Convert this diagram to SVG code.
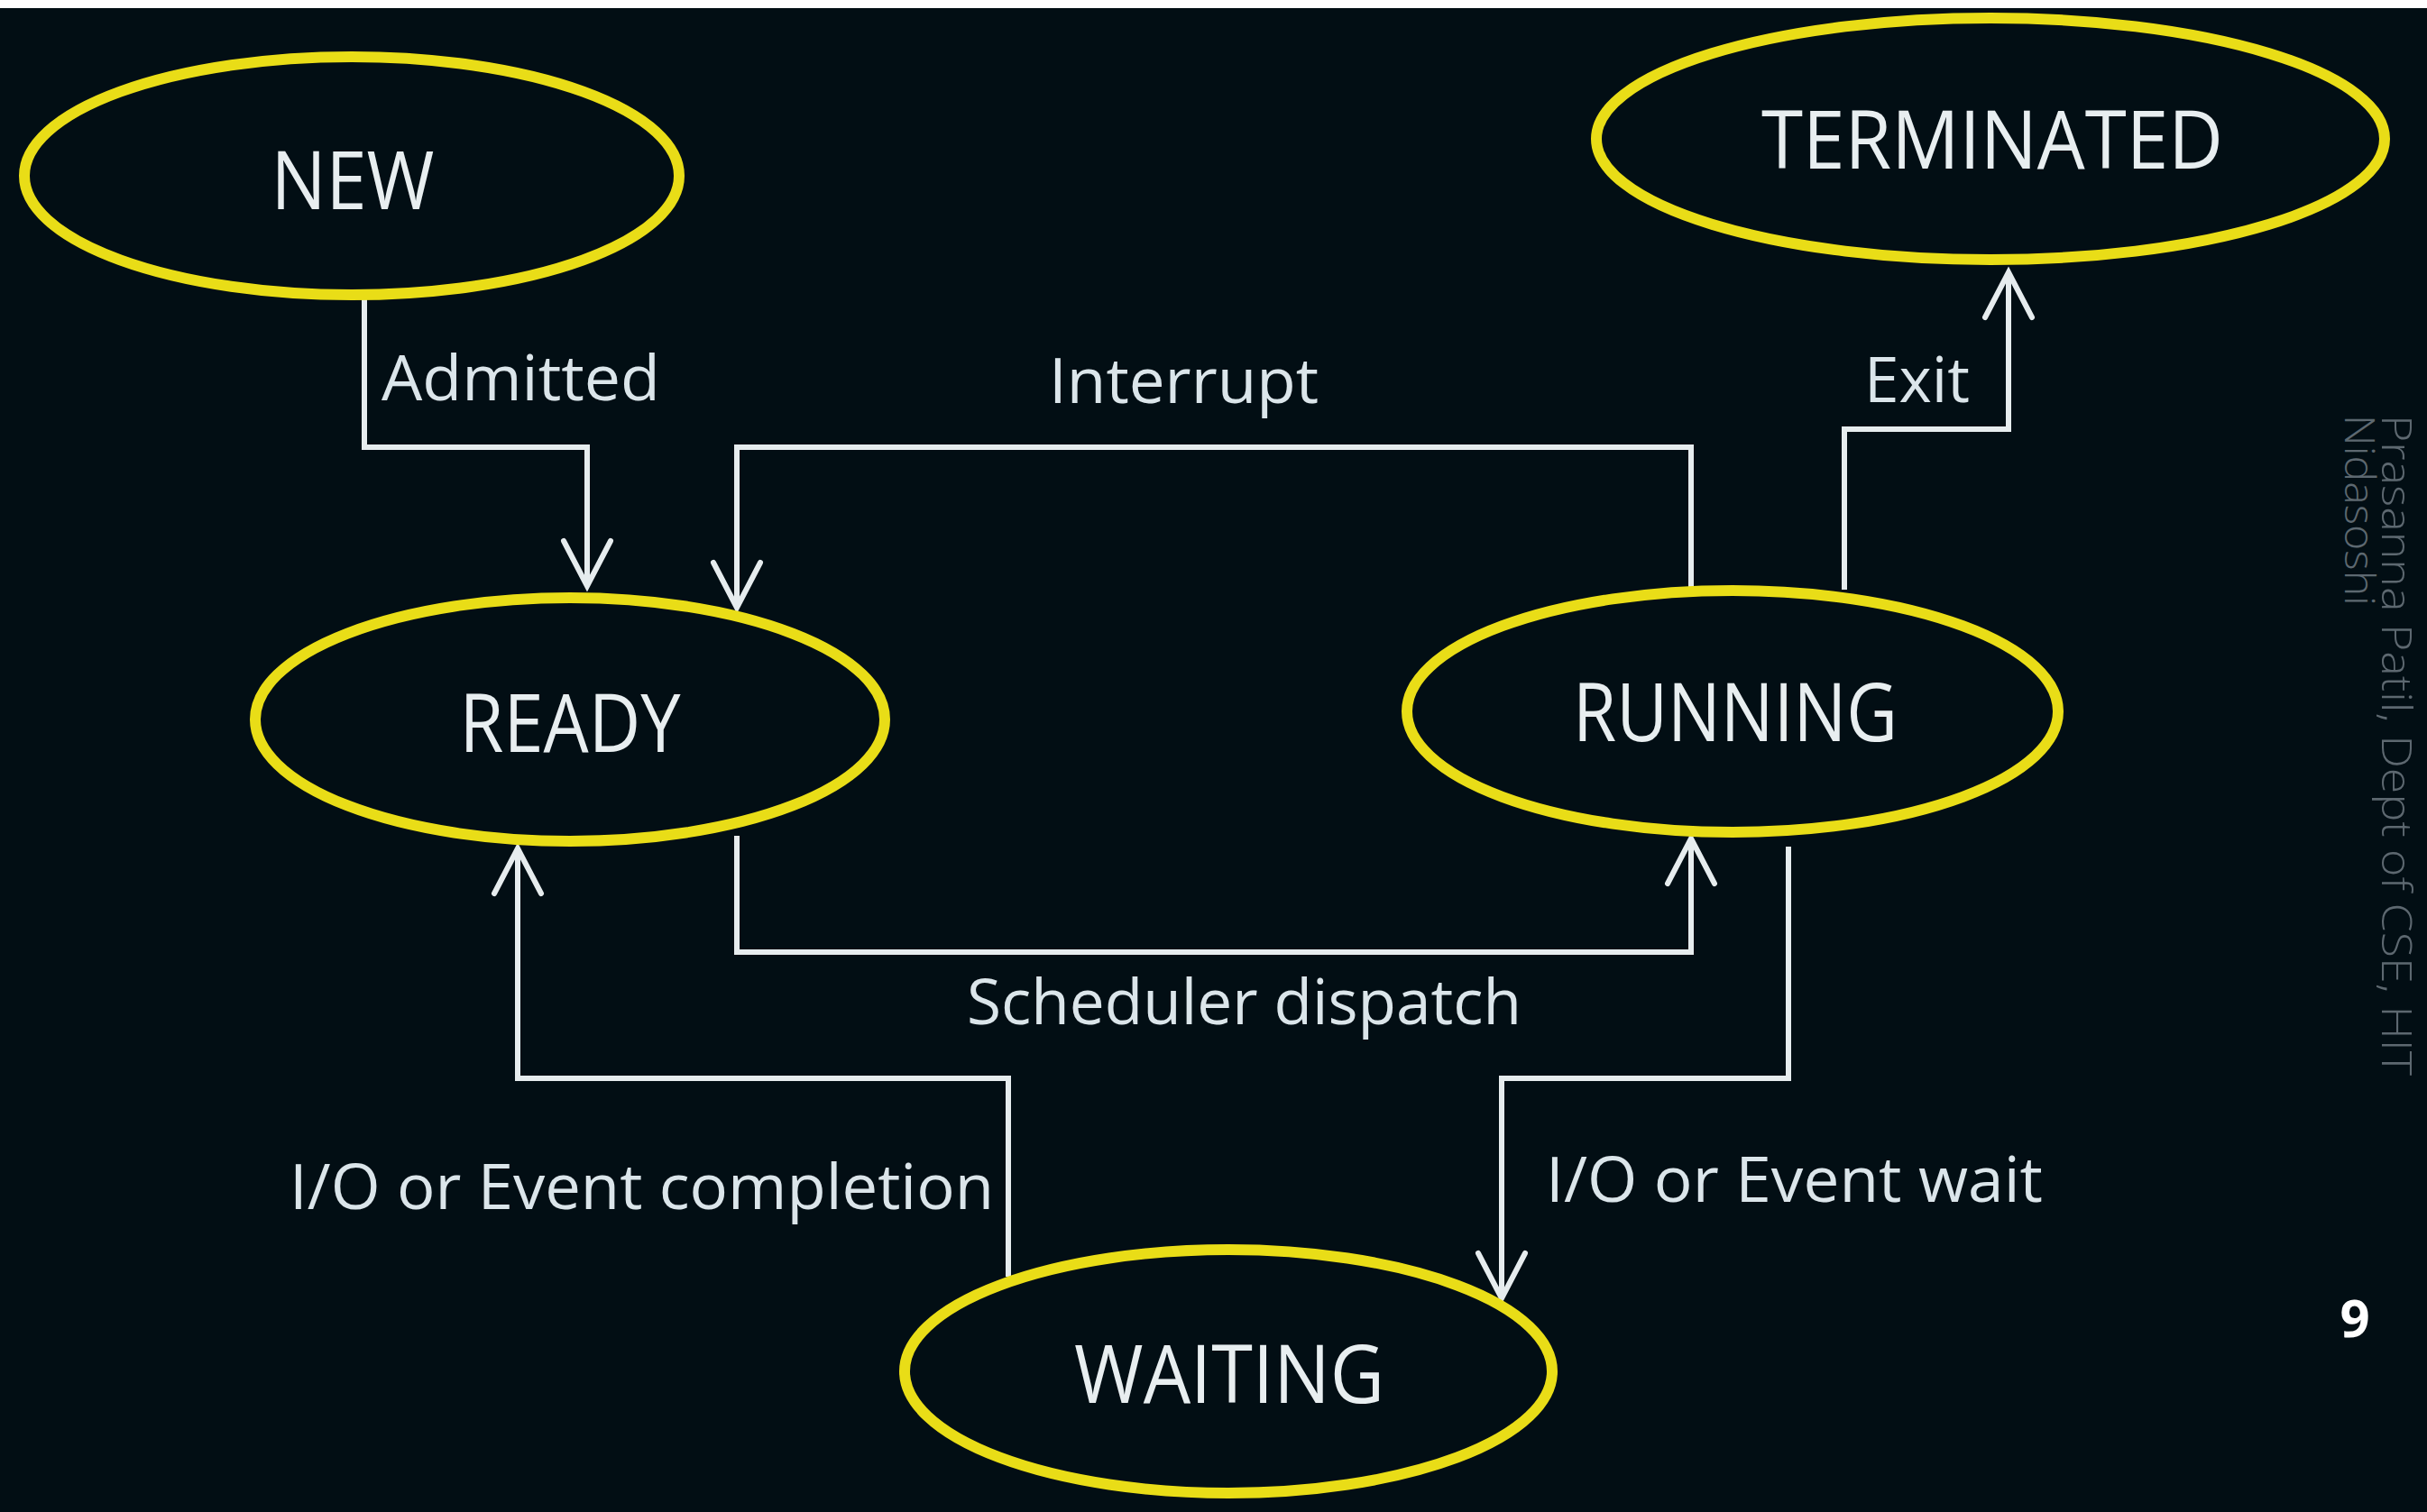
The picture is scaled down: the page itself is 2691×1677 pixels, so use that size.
<svg xmlns="http://www.w3.org/2000/svg" width="2691" height="1677" viewBox="0 0 2691 1677">
  <style>
    .state { fill: none; stroke: #e9dd17; stroke-width: 12; }
    .state-name { font-family: "Open Sans", "Noto Sans", sans-serif; font-size: 90px; font-weight: 500; fill: #e8eef0; text-anchor: middle; }
    .wire { fill: none; stroke: #e6ecee; stroke-width: 6; stroke-linejoin: miter; }
    .edge-label { font-family: "Open Sans", "Noto Sans", sans-serif; font-size: 70px; fill: #dbe5ea; }
    .credit { font-family: "Open Sans", "Noto Sans", sans-serif; font-size: 46px; font-weight: 300; fill: #5d6870; }
    .page-no { font-family: "Open Sans", "Noto Sans", sans-serif; font-size: 58px; font-weight: 700; fill: #ffffff; text-anchor: middle; }
  </style>
  <defs>
    <marker id="open-arrow" markerUnits="userSpaceOnUse" viewBox="-60 -35 70 70" refX="0" refY="0" markerWidth="70" markerHeight="70" orient="auto" overflow="visible">
      <path d="M -50 -26 L 0 0 L -50 26" fill="none" stroke="#e6ecee" stroke-width="6" stroke-linecap="round"/>
    </marker>
  </defs>

  <!-- slide background -->
  <rect x="0" y="0" width="2691" height="1677" fill="#020e14"/>
  <rect x="0" y="0" width="2691" height="9" fill="#ffffff"/>

  <!-- transitions -->
  <g id="connectors">
    <path id="edge-admitted" class="wire" d="M 404 332 V 496 H 651 V 650" marker-end="url(#open-arrow)"/>
    <path id="edge-interrupt" class="wire" d="M 1875 652 V 496 H 817 V 674" marker-end="url(#open-arrow)"/>
    <path id="edge-exit" class="wire" d="M 2045 654 V 476 H 2227 V 302" marker-end="url(#open-arrow)"/>
    <path id="edge-dispatch" class="wire" d="M 817 927 V 1056 H 1875 V 930" marker-end="url(#open-arrow)"/>
    <path id="edge-wait" class="wire" d="M 1983 939 V 1196 H 1665 V 1440" marker-end="url(#open-arrow)"/>
    <path id="edge-completion" class="wire" d="M 1118 1416 V 1196 H 574 V 941" marker-end="url(#open-arrow)"/>

    <text class="edge-label" x="423" y="444" textLength="309" lengthAdjust="spacingAndGlyphs">Admitted</text>
    <text class="edge-label" x="1163" y="447" textLength="299" lengthAdjust="spacingAndGlyphs">Interrupt</text>
    <text class="edge-label" x="2067" y="446" textLength="117" lengthAdjust="spacingAndGlyphs">Exit</text>
    <text class="edge-label" x="1072" y="1136" textLength="615" lengthAdjust="spacingAndGlyphs">Scheduler dispatch</text>
    <text class="edge-label" x="321" y="1341" textLength="781" lengthAdjust="spacingAndGlyphs">I/O or Event completion</text>
    <text class="edge-label" x="1714" y="1333" textLength="551" lengthAdjust="spacingAndGlyphs">I/O or Event wait</text>
  </g>

  <!-- process states -->
  <g id="state-new">
    <ellipse class="state" cx="390" cy="195" rx="363" ry="132"/>
    <text class="state-name" x="391" y="232" textLength="181" lengthAdjust="spacingAndGlyphs">NEW</text>
  </g>
  <g id="state-terminated">
    <ellipse class="state" cx="2207" cy="154" rx="437" ry="134"/>
    <text class="state-name" x="2209" y="187" textLength="512" lengthAdjust="spacingAndGlyphs">TERMINATED</text>
  </g>
  <g id="state-ready">
    <ellipse class="state" cx="632" cy="798" rx="349" ry="135"/>
    <text class="state-name" x="632" y="834" textLength="245" lengthAdjust="spacingAndGlyphs">READY</text>
  </g>
  <g id="state-running">
    <ellipse class="state" cx="1921" cy="789" rx="361" ry="134"/>
    <text class="state-name" x="1924" y="822" textLength="360" lengthAdjust="spacingAndGlyphs">RUNNING</text>
  </g>
  <g id="state-waiting">
    <ellipse class="state" cx="1362" cy="1521" rx="359" ry="135"/>
    <text class="state-name" x="1363" y="1556" textLength="344" lengthAdjust="spacingAndGlyphs">WAITING</text>
  </g>

  <!-- footer: vertical author credit and slide number -->
  <g id="credit" transform="translate(2641,460) rotate(90)">
    <text class="credit" x="0" y="0" textLength="733" lengthAdjust="spacingAndGlyphs">Prasanna Patil, Dept of CSE, HIT</text>
    <text class="credit" x="0" y="41" textLength="212" lengthAdjust="spacingAndGlyphs">Nidasoshi</text>
  </g>
  <text class="page-no" x="2611" y="1483">9</text>
</svg>
